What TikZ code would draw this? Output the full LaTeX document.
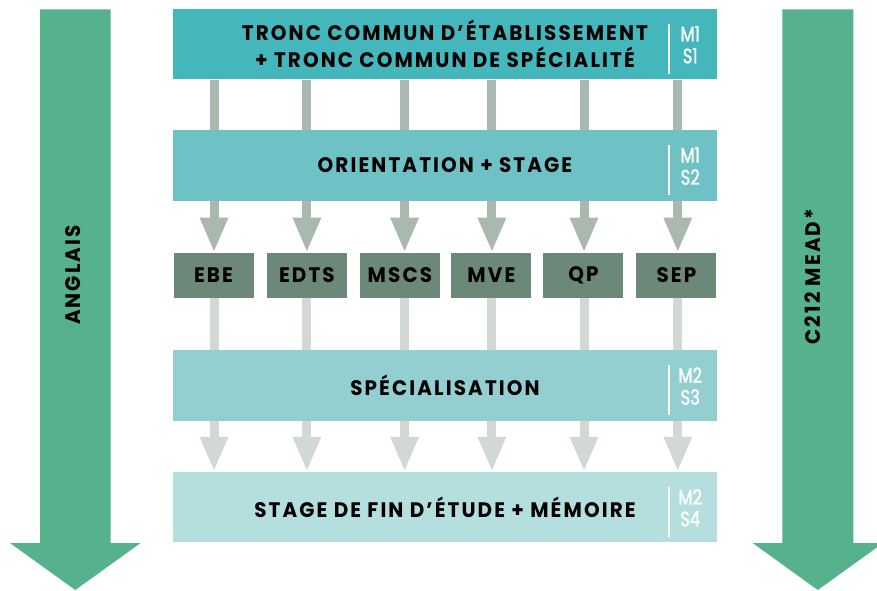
\documentclass[tikz,border=0pt]{standalone}
\usepackage{fontspec}
\usetikzlibrary{arrows.meta}
\newfontfamily\titlefont{Poppins}[LetterSpace=10, FakeStretch=0.95]
\newfontfamily\labfont{Poppins}[FakeStretch=0.78, FakeBold=1.2]
\definecolor{cA}{HTML}{43B7BC}
\definecolor{cB}{HTML}{6EC2C6}
\definecolor{cC}{HTML}{93CFD1}
\definecolor{cD}{HTML}{B5DEDF}
\definecolor{cSmall}{HTML}{6C8879}
\definecolor{cBig}{HTML}{55B28C}
\definecolor{cShaftA}{HTML}{AAB9B0}
\definecolor{cShaftB}{HTML}{D2D9D5}
\tikzset{
  band/.style={rectangle, inner sep=0pt, minimum width=544pt, minimum height=70.5pt, text=black, align=center,
    font=\titlefont\bfseries\fontsize{21}{27}\selectfont},
  spec/.style={rectangle, inner sep=0pt, minimum width=80pt, minimum height=45.3pt, fill=cSmall, text=black,
    font=\titlefont\bfseries\fontsize{21}{27}\selectfont},
  lab/.style={text=white, inner sep=0pt, font=\labfont\fontsize{21}{21}\selectfont},
  labline/.style={draw=white, line width=1.6pt},
  shaftA/.style={draw=cShaftA, line width=9pt},
  shaftB/.style={draw=cShaftB, line width=9pt},
  arrA/.style={draw=cShaftA, line width=9pt, -{Triangle[width=26pt,length=35pt]}},
  arrB/.style={draw=cShaftB, line width=9pt, -{Triangle[width=26pt,length=35pt]}},
  bigarrow/.style={fill=cBig},
  side/.style={rotate=90, text=black, inner sep=0pt, font=\titlefont\bfseries\fontsize{21}{27}\selectfont}
}
\begin{document}
\begin{tikzpicture}[x=1pt,y=-1pt]
\useasboundingbox (0,0) rectangle (877,590);
% big side arrows
\fill[bigarrow] (40,9.4) -- (110.7,9.4) -- (110.7,543) -- (140.6,543) -- (75.3,590) -- (10,543) -- (40,543) -- cycle;
\fill[bigarrow] (782.3,9.4) -- (853.3,9.4) -- (853.3,543) -- (883,543) -- (817.8,590) -- (752.6,543) -- (782.3,543) -- cycle;
\node[side] (ang) at (73,275) {ANGLAIS};
\node[side] (mead) at (813,276.6) {C212 MEAD*};
% bands
\node[band, fill=cA] (b1) at (445,44.2) {TRONC COMMUN D’ÉTABLISSEMENT\\+ TRONC COMMUN DE SPÉCIALITÉ};
\node[band, fill=cB] (b2) at (445,165.4) {ORIENTATION + STAGE};
\node[band, fill=cC] (b3) at (445,385.4) {SPÉCIALISATION};
\node[band, fill=cD] (b4) at (445,507.2) {STAGE DE FIN D’ÉTUDE + MÉMOIRE};
% specialities
\node[spec] (s1) at (213.5,275.4) {EBE};
\node[spec] (s2) at (306.9,275.4) {EDTS};
\node[spec] (s3) at (399.9,275.4) {MSCS};
\node[spec] (s4) at (491.4,275.4) {MVE};
\node[spec] (s5) at (583.4,275.4) {QP};
\node[spec] (s6) at (676.4,275.4) {SEP};
% connectors
\foreach \s/\dx in {s1/0.5, s2/0, s3/4.7, s4/0.5, s5/0.6, s6/1.4}{
  \coordinate (c\s) at ([xshift=\dx pt]\s.center);
  \draw[shaftA] (c\s |- b1.south) -- (c\s |- b2.north);
  \draw[arrA] (c\s |- b2.south) -- (c\s |- \s.north);
  \draw[shaftB] (c\s |- \s.south) -- (c\s |- b3.north);
  \draw[arrB] (c\s |- b3.south) -- (c\s |- b4.north);
}
% semester labels
\foreach \b/\m/\s in {b1/M1/S1, b2/M1/S2, b3/M2/S3, b4/M2/S4}{
  \draw[labline] ([xshift=-48.5pt,yshift=20pt]\b.east) -- ([xshift=-48.5pt,yshift=-30pt]\b.east);
  \node[lab] at ([xshift=-27pt,yshift=10.4pt]\b.east) {\m};
  \node[lab] at ([xshift=-27pt,yshift=-11.6pt]\b.east) {\s};
}
\end{tikzpicture}
\end{document}
